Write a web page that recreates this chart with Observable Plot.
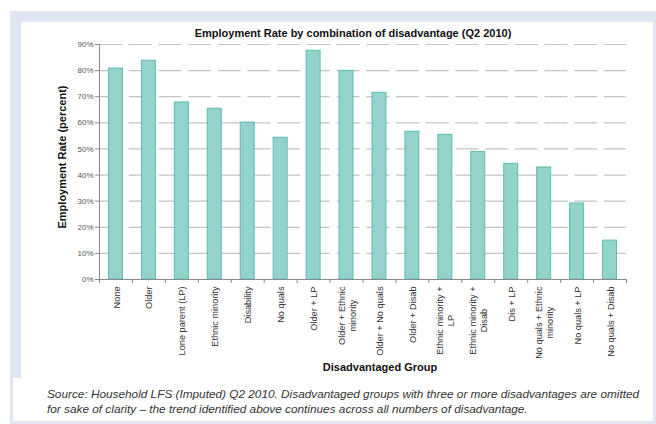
<!DOCTYPE html>
<html><head><meta charset="utf-8">
<script src="https://cdn.jsdelivr.net/npm/d3@7"></script>
<script src="https://cdn.jsdelivr.net/npm/@observablehq/plot@0.6"></script>
<style>
body{margin:0;width:656px;height:424px;position:relative;background:#fff;font-family:"Liberation Sans",Arial,sans-serif;overflow:hidden}
#bg{position:absolute;left:10px;top:11px;width:646px;height:413px;background:#dfe6f1}
#panel{position:absolute;left:21px;top:22px;width:632px;height:358px;background:#fff}
#capbox{position:absolute;left:13px;top:378px;width:640px;height:43px;background:#fff}
#chart{position:absolute;left:21px;top:22px}
#title{position:absolute;left:153px;top:26px;width:400px;text-align:center;font-weight:bold;font-size:11px;line-height:14px;color:#111;white-space:nowrap}
#ylab{position:absolute;left:62px;top:157px;transform:translate(-50%,-50%) rotate(-90deg);font-weight:bold;font-size:11px;line-height:13px;color:#111;white-space:nowrap}
#xlab{position:absolute;left:380px;top:367px;transform:translate(-50%,-50%);font-weight:bold;font-size:11px;line-height:13px;color:#111;white-space:nowrap}
#cap{position:absolute;left:47px;top:387px;width:595px;font-style:italic;font-size:11.8px;line-height:15px;color:#333}
</style></head><body>
<div id="bg"></div>
<div id="panel"></div>
<div id="capbox"></div>
<div id="chart"></div>
<div id="title"></div>
<div id="ylab"></div>
<div id="xlab"></div>
<div id="cap"></div>
<script>
const titleText = "Employment Rate by combination of disadvantage (Q2 2010)";
const yLabel = "Employment Rate (percent)";
const xLabel = "Disadvantaged Group";
const caption = "Source: Household LFS (Imputed) Q2 2010. Disadvantaged groups with three or more disadvantages are omitted for sake of clarity \u2013 the trend identified above continues across all numbers of disadvantage.";

const groups = ["None","Older","Lone parent (LP)","Ethnic minority","Disability","No quals","Older + LP","Older + Ethnic minority","Older + No quals","Older + Disab","Ethnic minority + LP","Ethnic minority + Disab","Dis + LP","No quals + Ethnic minority","No quals + LP","No quals + Disab"];
const tickLabels = ["None","Older","Lone parent (LP)","Ethnic minority","Disability","No quals","Older + LP","Older + Ethnic\nminority","Older + No quals","Older + Disab","Ethnic minority +\nLP","Ethnic minority +\nDisab","Dis + LP","No quals + Ethnic\nminority","No quals + LP","No quals + Disab"];
const rates = [80.8, 83.8, 67.8, 65.4, 60.1, 54.3, 87.6, 79.9, 71.5, 56.6, 55.4, 48.9, 44.3, 42.9, 29.1, 14.9];
const yTicks = [0,10,20,30,40,50,60,70,80,90];

document.getElementById("title").textContent = titleText;
document.getElementById("ylab").textContent = yLabel;
document.getElementById("xlab").textContent = xLabel;
document.getElementById("cap").textContent = caption;

const data = groups.map((g,i)=>({group:g, rate:rates[i]}));
const W=632,H=358,mL=78,mR=27,mT=22,mB=101;
const step=(W-mL-mR)/groups.length;
const pi=0.575, po=pi/2;
const axisColor="#8a8a8a";

const plot = Plot.plot({
  width:W,height:H,marginLeft:mL,marginRight:mR,marginTop:mT,marginBottom:mB,
  style:{fontFamily:'"Liberation Sans",Arial,sans-serif',background:"transparent",color:"#333",overflow:"visible"},
  x:{domain:groups,paddingInner:pi,paddingOuter:po,round:false,label:null},
  y:{domain:[0,90],label:null},
  marks:[
    Plot.gridY(yTicks.slice(1),{stroke:"#c4c4c4",strokeOpacity:1,strokeWidth:1.2,strokeDasharray:"23,6.7"}),
    Plot.barY(data,{x:"group",y:"rate",fill:"#94d3cc",stroke:"#5dbcb2",strokeWidth:1}),
    Plot.ruleY([0],{stroke:axisColor}),
    Plot.ruleX([groups[0]],{y1:()=>0,y2:()=>90,dx:-step/2,stroke:axisColor}),
    Plot.ruleX(groups,{y1:()=>0,y2:()=>0,insetTop:4,dx:-step/2,stroke:axisColor}),
    Plot.ruleX([groups[groups.length-1]],{y1:()=>0,y2:()=>0,insetTop:4,dx:step/2,stroke:axisColor}),
    Plot.axisY({ticks:yTicks,tickFormat:d=>d+"%",tickSize:4,tickPadding:2,fontSize:8,stroke:axisColor,fill:"#555",label:null}),
    Plot.axisX({tickSize:0,tickPadding:7,tickRotate:-90,textAnchor:"end",lineAnchor:"middle",lineHeight:1.2,fontSize:9.2,fill:"#333",tickFormat:d=>tickLabels[groups.indexOf(d)],label:null})
  ]
});
document.getElementById("chart").appendChild(plot);

// center-align the lines of multi-line tick labels, keeping the longest line at the top
plot.querySelectorAll('[aria-label="x-axis tick label"] text').forEach(t=>{
  const spans=[...t.querySelectorAll("tspan")];
  if(spans.length>1){
    const max=Math.max(...spans.map(s=>s.getComputedTextLength()));
    t.setAttribute("text-anchor","middle");
    spans.forEach(s=>s.setAttribute("x",-max/2));
  }
});
</script>
</body></html>
